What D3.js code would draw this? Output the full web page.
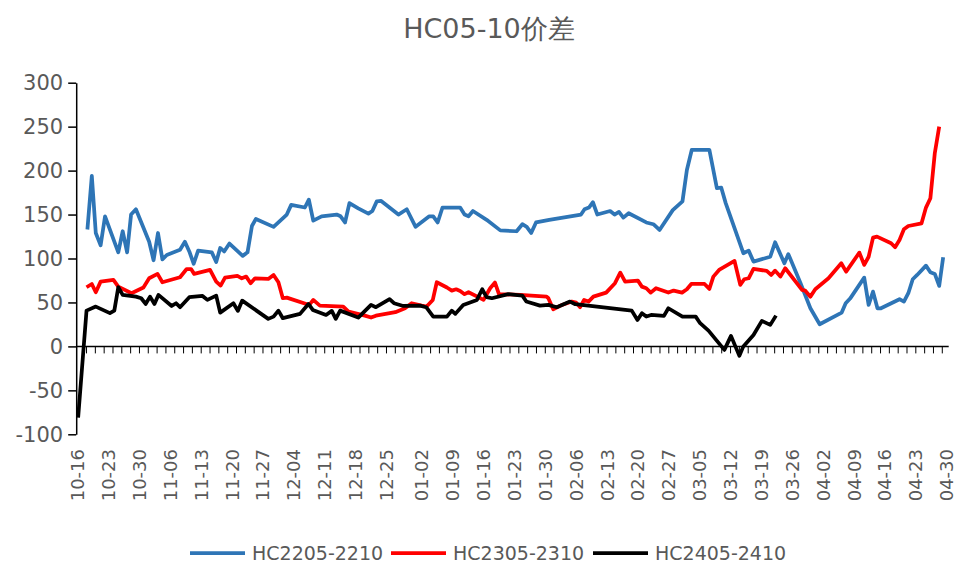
<!DOCTYPE html>
<html>
<head>
<meta charset="utf-8">
<script src="https://cdn.jsdelivr.net/npm/d3@7"></script>
<style>
	body { margin: 0; background: #fff; }
	text { font-family: "DejaVu Sans", sans-serif; fill: #595959; }
</style>
</head>
<body>
<svg id="chart" width="958" height="566"></svg>
<script>
// x values are days after 10-16
const startDate = '2023-10-16'
const tickLabels = ['10-16', '10-23', '10-30', '11-06', '11-13', '11-20', '11-27', '12-04', '12-11', '12-18', '12-25',
	'01-02', '01-09', '01-16', '01-23', '01-30', '02-06', '02-13', '02-20', '02-27', '03-05', '03-12', '03-19', '03-26',
	'04-02', '04-09', '04-16', '04-23', '04-30']
const yTicks = [-100, -50, 0, 50, 100, 150, 200, 250, 300]
const seriesNames = ['HC2205-2210', 'HC2305-2310', 'HC2405-2410']
const seriesColors = ['#2E75B6', '#FF0000', '#000000']

const hc2205 = [[2.2, 133], [3.2, 194], [4.1, 129], [5.2, 115], [6.2, 148], [9.2, 107], [10.2, 131], [11.2, 107], [12.1, 150],
	[13.2, 156], [16.2, 119], [17.2, 98], [18.2, 129], [19.2, 99], [20.2, 104], [23.2, 110], [24.3, 119], [25.3, 108],
	[26.3, 94], [27.3, 109], [30.4, 107], [31.4, 96], [32.3, 112], [33.2, 108], [34.4, 117], [37.4, 103], [38.5, 107],
	[39.5, 137], [40.4, 145], [44.4, 136], [47.4, 150], [48.4, 161], [51.5, 158], [52.4, 167], [53.4, 143], [55.3, 148],
	[58.7, 150], [59.6, 148], [60.6, 141], [61.6, 163], [63.6, 157], [65.9, 151], [66.8, 154], [67.8, 165], [68.8, 165.5],
	[72.7, 150], [74.6, 156], [76.6, 136], [79.7, 148], [80.6, 148], [81.6, 141], [82.7, 158], [86.7, 158], [87.7, 150],
	[88.6, 148], [89.6, 154], [92.7, 144], [95.8, 132], [99.5, 131], [100.8, 139], [101.8, 136], [102.8, 129], [103.9, 141],
	[106.9, 144], [114.1, 150], [114.9, 156], [115.9, 158], [116.8, 164], [117.8, 150], [120.7, 154], [121.7, 150],
	[122.7, 153], [123.7, 146.5], [124.9, 151.5], [128.9, 141], [130.5, 139], [131.9, 132.5], [134.9, 155], [137.1, 165],
	[138.1, 200.7], [139.2, 223.5], [143.2, 223.5], [144.9, 180], [145.9, 180.6], [146.9, 163], [150.9, 106], [152.1, 109],
	[153.2, 96.5], [157, 102], [158.1, 118.5], [160.2, 94.6], [161.1, 105], [163.8, 72.6], [166.1, 43.4], [168.2, 25.2],
	[173.2, 38.5], [174.1, 49], [175.1, 54.4], [178.3, 78.2], [179.3, 47.2], [180.3, 62.3], [181.3, 43.4], [182.1, 43.4],
	[186.3, 53.7], [187.3, 51], [188.3, 60.5], [189.3, 76.4], [190.3, 81.3], [192.3, 91.9], [193.3, 84.4], [194.3, 82.5],
	[195.3, 68.8], [196.2, 101.4]]

const hc2305 = [[2, 67.3], [3.2, 71], [4.1, 61.6], [5.2, 73.7], [8.1, 75.6], [9.2, 68], [12.2, 60.5], [14.9, 67],
	[16.2, 77.5], [18.1, 82.5], [19.2, 73], [23.2, 78.7], [24.7, 88], [25.7, 88], [26.4, 82.5], [30, 87], [31.4, 73.7],
	[32.4, 69.2], [33.4, 78.3], [36.2, 80.2], [37.2, 77.5], [38.2, 79.4], [39.2, 71.9], [40.2, 77.5], [43.2, 76.8],
	[44.4, 81.3], [45.5, 73], [46.5, 54.8], [47.4, 55.5], [52.5, 47.2], [53.4, 52.9], [54.9, 46.4], [60.2, 45.3],
	[61.4, 39.6], [65.1, 35], [66.5, 32.8], [67.6, 35], [72, 38.9], [74.2, 43.4], [75.7, 49.1], [78, 46.4], [79.1, 45.3],
	[80.5, 52.9], [81.4, 73], [83.7, 67], [84.8, 63.5], [85.8, 65], [86.7, 63.1], [87.7, 59.4], [88.6, 61.6], [90.6, 56.6],
	[92, 52.9], [93.5, 66.2], [94.6, 72.6], [95.5, 59.4], [100.3, 58.6], [106.3, 56.6], [106.7, 54.8], [107.8, 42.3],
	[109.8, 47.2], [112, 51], [113, 49.8], [113.9, 44.6], [114.8, 52.9], [115.8, 51], [116.9, 56.6], [119.8, 61.2],
	[121.8, 71.9], [123, 83.9], [124.1, 73.7], [127, 74.8], [127.9, 68], [128.9, 66.2], [129.9, 61.2], [131.1, 66.2],
	[133.9, 61.2], [135.1, 63.5], [137, 61.2], [138.1, 65], [139.1, 71], [142.1, 71], [143.2, 65.4], [144.1, 79.4],
	[145.4, 87], [148.9, 97.2], [150.2, 70], [151.1, 76.4], [152.1, 77.5], [153.2, 88.1], [156.2, 85.9], [157.2, 81.3],
	[158.1, 86.2], [159.3, 79.4], [160.4, 88.9], [164.2, 64.3], [164.9, 63.5], [166.1, 56.6], [167.2, 65], [170.2, 77.5],
	[173.1, 94.6], [174.2, 85], [177.2, 106.7], [178.3, 92.7], [179.3, 102], [180.3, 123.7], [181.2, 124.9], [184.4, 117.4],
	[185.3, 112.8], [186.3, 121.1], [187.3, 133.3], [188.3, 137], [191.3, 140], [192.3, 157.9], [193.3, 168.5],
	[194.3, 219.7], [195.3, 250]]

const hc2405 = [[0.1, -81], [2, 40.7], [4.1, 45.3], [7.3, 37.8], [8.3, 40.7], [9.2, 67.3], [10.2, 58.6], [13.2, 56.6],
	[14.4, 54.8], [15.4, 48.3], [16.4, 56.6], [17.4, 48.3], [18.3, 58.6], [21.3, 46], [22.3, 49.1], [23.2, 44.6],
	[25.3, 56], [28.3, 57.4], [29.4, 52.9], [31.4, 57.8], [32.3, 38.4], [35.3, 49.1], [36.3, 40.4], [37.3, 52.1],
	[43.2, 31.3], [44.4, 33.9], [45.5, 40.7], [46.5, 32.1], [50.4, 37], [52.3, 48.3], [53.3, 41.5], [56.3, 35.8],
	[57.6, 40.4], [58.5, 31.3], [59.5, 40.7], [63.6, 32.8], [66.5, 47.2], [67.6, 44.6], [70.7, 53.7], [71.7, 49.1],
	[73.8, 46], [77.6, 46.4], [79, 44.6], [80.6, 33.9], [83.7, 33.9], [84.8, 40.7], [85.6, 37], [87.4, 47.2],
	[90.5, 52.9], [91.7, 65], [92.7, 56], [93.9, 54.8], [97.6, 59.4], [100.8, 57.8], [101.7, 51], [104.8, 46.4],
	[106.7, 47.2], [108.6, 44.6], [111.6, 51], [112.8, 48], [125.6, 40.7], [126.9, 30.1], [127.9, 37.8], [128.9, 33.9],
	[130, 35.8], [132.9, 34.7], [133.9, 43.4], [137.1, 33.9], [140.1, 33.9], [141.1, 26.4], [143, 18], [146.6, -4],
	[148.1, 12], [150, -10.8], [150.9, 0], [153.2, 13], [155.1, 29], [157, 24.5], [158.3, 35]]

const seriesData = [hc2205, hc2305, hc2405]

const svg = d3.select('#chart')
const parse = d3.timeParse('%Y-%m-%d')
const start = parse(startDate)
const labelDay = s => {
	const m = +s.slice(0, 2)
	return d3.timeDay.count(start, parse((m >= 10 ? '2023-' : '2024-') + s))
}
const lastDay = labelDay(tickLabels[tickLabels.length - 1])

const x = d3.scaleLinear().domain([0, lastDay]).range([77.7, 946.7])
const y = d3.scaleLinear().domain([-100, 300]).range([434.3, 82.7])

// title
svg.append('text')
	.attr('x', 489).attr('y', 38)
	.attr('text-anchor', 'middle')
	.style('font-size', '27px')
	.text('HC05-10价差')

// y axis
const yAxis = svg.append('g')
	.attr('transform', `translate(${x(0) - 1.5},0)`)
	.call(d3.axisLeft(y).tickValues(yTicks).tickFormat(d => String(d)).tickSize(8).tickPadding(5).tickSizeOuter(0))
yAxis.select('.domain').attr('stroke', '#000').attr('stroke-width', 1.5)
yAxis.selectAll('.tick line').attr('stroke', '#000').attr('stroke-width', 1.5)
yAxis.selectAll('.tick text').style('font-size', '21px').attr('fill', '#595959')

// x axis line at zero with small ticks every 2 days
const gx = svg.append('g').attr('class', 'x-axis')
gx.append('line')
	.attr('x1', x(0) - 1.5).attr('x2', x(lastDay) + 2)
	.attr('y1', y(0)).attr('y2', y(0))
	.attr('stroke', '#000').attr('stroke-width', 1.5)
gx.selectAll('.minor')
	.data(d3.range(2, lastDay + 1, 2))
	.join('line')
	.attr('x1', d => x(d)).attr('x2', d => x(d))
	.attr('y1', y(0)).attr('y2', y(0) + 7)
	.attr('stroke', '#000').attr('stroke-width', 1)

// x labels, rotated
svg.append('g').selectAll('text')
	.data(tickLabels)
	.join('text')
	.attr('transform', d => `translate(${x(labelDay(d)) + 6.5},449) rotate(-90)`)
	.attr('text-anchor', 'end')
	.style('font-size', '18px')
	.text(d => d)

// lines
const line = d3.line().x(d => x(d[0])).y(d => y(d[1]))
svg.append('g').selectAll('path')
	.data(seriesData)
	.join('path')
	.attr('d', line)
	.attr('fill', 'none')
	.attr('stroke', (d, i) => seriesColors[i])
	.attr('stroke-width', 3.75)
	.attr('stroke-linejoin', 'round')

// legend
const legendX = [190, 391, 593]
const lg = svg.append('g').selectAll('g')
	.data(seriesNames)
	.join('g')
	.attr('transform', (d, i) => `translate(${legendX[i]},553)`)
lg.append('line')
	.attr('x1', 0).attr('x2', 55)
	.attr('stroke', (d, i) => seriesColors[i])
	.attr('stroke-width', 3.75)
lg.append('text')
	.attr('x', 62).attr('y', 7)
	.style('font-size', '19px')
	.text(d => d)
</script>
</body>
</html>
